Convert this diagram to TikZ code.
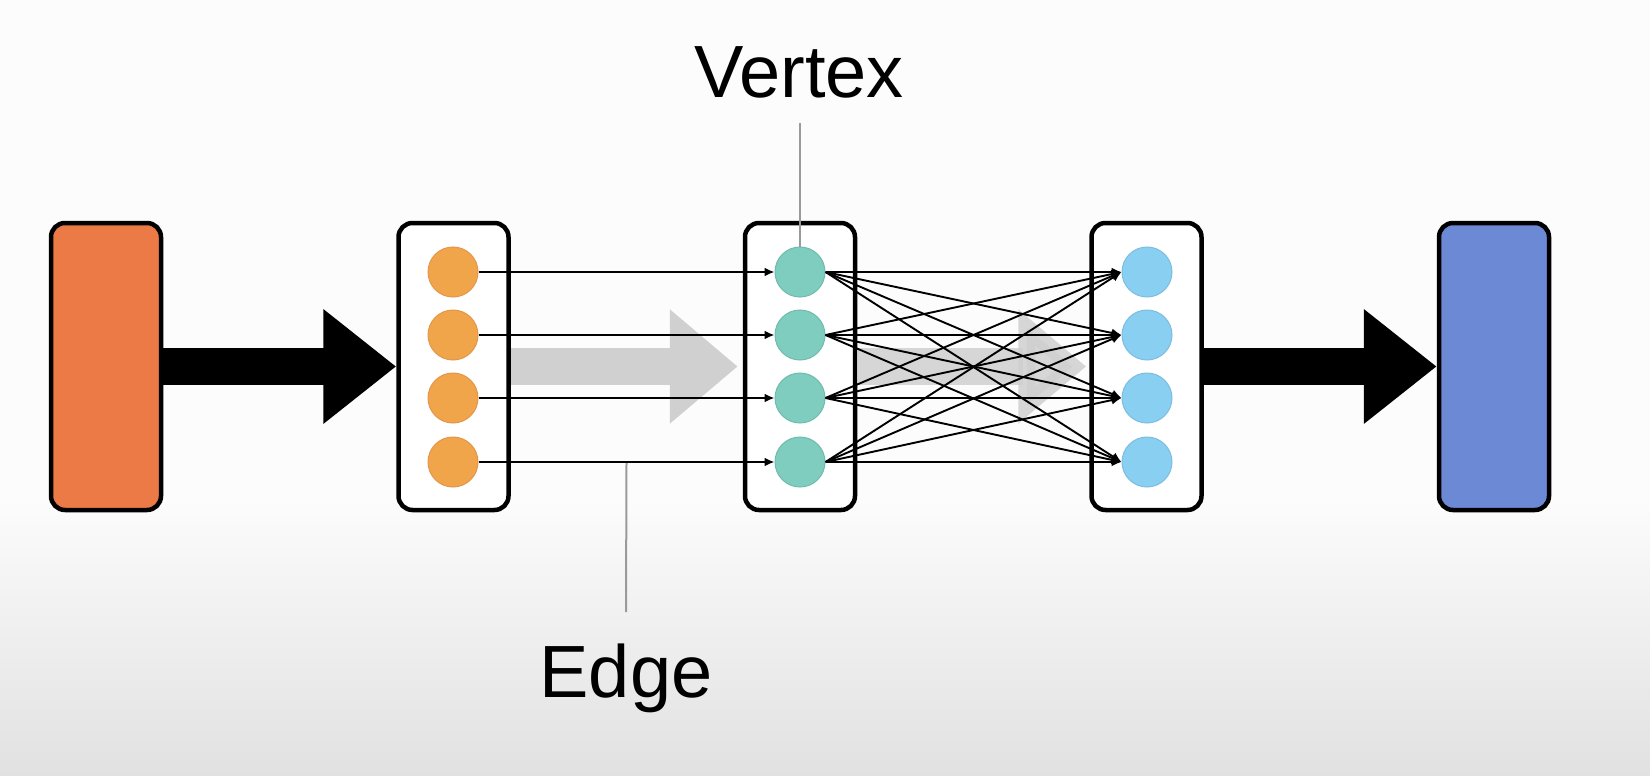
\documentclass[tikz,border=0pt]{standalone}
\usepackage{fontspec}
\setmainfont{Liberation Sans}
\usetikzlibrary{arrows.meta,calc}
\definecolor{bgtop}{HTML}{FCFCFC}
\definecolor{bgbot}{HTML}{E1E1E1}
\definecolor{inorange}{HTML}{EC7A47}
\definecolor{outblue}{HTML}{6C89D5}
\definecolor{corange}{HTML}{F1A54B}
\definecolor{corangeb}{HTML}{E3964A}
\definecolor{cteal}{HTML}{7ECDBF}
\definecolor{ctealb}{HTML}{6FBBAE}
\definecolor{cblue}{HTML}{88CFF1}
\definecolor{cblueb}{HTML}{7DBDE0}
\definecolor{flowgray}{HTML}{D0D0D0}
\definecolor{leadgray}{HTML}{9A9A9A}
\tikzset{
  blockbox/.style={draw=black, line width=4.5pt, rounded corners=14pt, minimum width=110pt, minimum height=287pt, inner sep=0pt},
  vert/.style={circle, minimum size=50pt, inner sep=0pt, line width=1pt},
  bigarrow/.style={line width=37pt, -{Triangle[length=73pt,width=110pt]}},
  flowarrow/.style={flowgray, line width=37pt, -{Triangle[length=68pt,width=110pt]}},
  thinedge/.style={line width=1.9pt, -{Latex[length=10pt,width=9pt]}},
  leader/.style={leadgray, line width=2pt},
  bigtext/.style={font=\fontsize{74pt}{80pt}\selectfont, inner sep=0pt, anchor=base}
}
\begin{document}
\begin{tikzpicture}[x=1pt,y=-1pt]
\useasboundingbox (0,0) rectangle (1650,776);
\fill[bgtop] (0,0) rectangle (1650,500);
\shade[top color=bgtop, bottom color=bgbot] (0,499) rectangle (1650,776);
% blocks
\node[blockbox, fill=inorange] (in) at (106,366.5) {};
\node[blockbox, fill=white] (b1) at (453.5,366.5) {};
\node[blockbox, fill=white] (b2) at (800,366.5) {};
\node[blockbox, fill=white] (b3) at (1146.5,366.5) {};
\node[blockbox, fill=outblue] (out) at (1494,366.5) {};
% big arrows
\draw[bigarrow] (in.east) -- (b1.west);
\draw[bigarrow] (b3.east) -- (out.west);
\draw[flowarrow, shorten >=5pt] (b1.east) -- (b2.west);
\draw[flowarrow, shorten >=3pt, opacity=0.85] (b2.east) -- (b3.west);
% vertices
\foreach \i/\y in {1/272,2/335,3/398,4/462}{
  \node[vert, fill=corange, draw=corangeb] (o\i) at (453,\y) {};
  \node[vert, fill=cteal, draw=ctealb] (t\i) at (800,\y) {};
  \node[vert, fill=cblue, draw=cblueb] (u\i) at (1147,\y) {};
}
% edges
\foreach \i in {1,...,4}{
  \draw[thinedge] (o\i.east) -- (t\i.west);
  \foreach \j in {1,...,4}{
    \draw[thinedge] (t\i.east) -- (u\j.west);
  }
}
% labels
\node[bigtext] (vtx) at (799,98) {Vertex};
\node[bigtext] (edg) at (626,697) {Edge};
\coordinate (vlead) at (800,123);
\draw[leader] (vlead) -- (t1.north);
\path (o4.east) -- (t4.west) coordinate[pos=0.5] (epos);
\coordinate (elead) at (626,612);
\draw[leader] ($(epos)+(0,1)$) -- (elead);
\end{tikzpicture}
\end{document}
